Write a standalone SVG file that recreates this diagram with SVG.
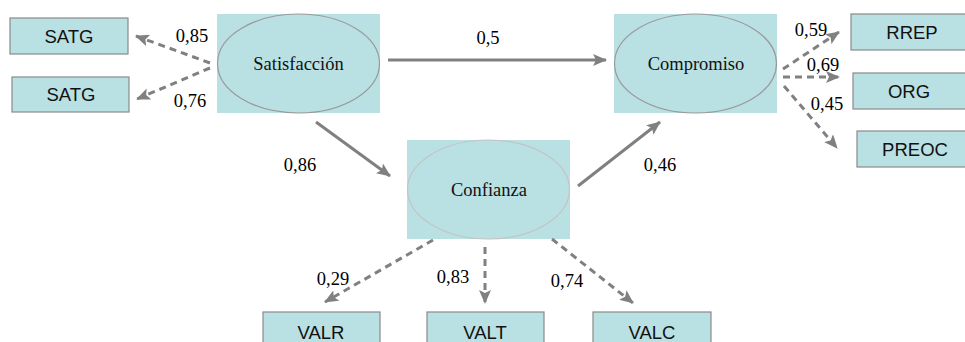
<svg xmlns="http://www.w3.org/2000/svg" width="965" height="342" viewBox="0 0 965 342">
  <defs>
    <marker id="head" viewBox="0 0 14 12" refX="13" refY="6" markerWidth="14" markerHeight="12" markerUnits="userSpaceOnUse" orient="auto">
      <path d="M0,0 L14,6 L0,12 L3,6 Z" fill="#808080"/>
    </marker>
  </defs>
  <style>
    .box { fill: #b9e0e3; stroke: #8a8a8a; stroke-width: 1.2; }
    .pad { fill: #b9e0e3; }
    .lat { fill: #b9e0e3; stroke: #9a9a9a; stroke-width: 1.2; }
    .obs { font-family: "Liberation Sans", Arial, sans-serif; font-size: 18.5px; fill: #111; text-anchor: middle; }
    .nm { font-family: "Liberation Serif", "Times New Roman", serif; font-size: 18.5px; fill: #111; text-anchor: middle; }
    .lbl { font-family: "Liberation Serif", "Times New Roman", serif; font-size: 18.5px; fill: #000; text-anchor: middle; }
    .path { stroke: #808080; stroke-width: 3; fill: none; marker-end: url(#head); }
    .dash { stroke: #808080; stroke-width: 3; fill: none; stroke-dasharray: 7 5; marker-end: url(#head); }
  </style>

  <!-- latent constructs -->
  <g id="satisfaccion">
    <rect class="pad" x="217" y="14" width="163" height="99"/>
    <ellipse class="lat" cx="298.5" cy="63.5" rx="81" ry="49.5"/>
    <text class="nm" x="298.5" y="70">Satisfacción</text>
  </g>
  <g id="compromiso">
    <rect class="pad" x="614" y="14" width="163" height="99"/>
    <ellipse class="lat" cx="695.5" cy="63.5" rx="81" ry="49.5"/>
    <text class="nm" x="696" y="70">Compromiso</text>
  </g>
  <g id="confianza">
    <rect class="pad" x="407" y="140" width="163" height="99"/>
    <ellipse class="lat" cx="488.5" cy="189.5" rx="81" ry="49.5" style="stroke:#c4c4c4"/>
    <text class="nm" x="489" y="196">Confianza</text>
  </g>

  <!-- observed indicators -->
  <g id="satg1">
    <rect class="box" x="10" y="18" width="118" height="36"/>
    <text class="obs" x="69" y="43">SATG</text>
  </g>
  <g id="satg2">
    <rect class="box" x="12" y="77" width="117" height="35"/>
    <text class="obs" x="71" y="101">SATG</text>
  </g>
  <g id="rrep">
    <rect class="box" x="851" y="14" width="120" height="36"/>
    <text class="obs" x="912" y="39">RREP</text>
  </g>
  <g id="org">
    <rect class="box" x="853" y="73" width="118" height="36"/>
    <text class="obs" x="909" y="98">ORG</text>
  </g>
  <g id="preoc">
    <rect class="box" x="857" y="131" width="114" height="36"/>
    <text class="obs" x="915" y="156">PREOC</text>
  </g>
  <g id="valr">
    <rect class="box" x="263" y="312" width="117" height="40"/>
    <text class="obs" x="321" y="339">VALR</text>
  </g>
  <g id="valt">
    <rect class="box" x="427" y="312" width="117" height="40"/>
    <text class="obs" x="485" y="339">VALT</text>
  </g>
  <g id="valc">
    <rect class="box" x="593" y="312" width="118" height="40"/>
    <text class="obs" x="652" y="339">VALC</text>
  </g>

  <!-- paths and loadings -->
  <g id="connectors">
    <line class="path" x1="388" y1="60" x2="606" y2="60"/>
    <line class="path" x1="316" y1="122" x2="390" y2="176"/>
    <line class="path" x1="578" y1="186" x2="660" y2="122"/>

    <line class="dash" x1="210" y1="63" x2="136" y2="36"/>
    <line class="dash" x1="210" y1="68" x2="137" y2="99"/>

    <line class="dash" x1="783" y1="69" x2="839" y2="32"/>
    <line class="dash" x1="783" y1="77" x2="839" y2="77"/>
    <line class="dash" x1="784" y1="86" x2="837" y2="148"/>

    <line class="dash" x1="433" y1="240" x2="325" y2="302"/>
    <line class="dash" x1="485" y1="247" x2="485" y2="303"/>
    <line class="dash" x1="552" y1="239" x2="633" y2="303"/>
  </g>

  <g id="loadings">
    <text class="lbl" x="488" y="44">0,5</text>
    <text class="lbl" x="300" y="171">0,86</text>
    <text class="lbl" x="660" y="171">0,46</text>
    <text class="lbl" x="192" y="42">0,85</text>
    <text class="lbl" x="190" y="107">0,76</text>
    <text class="lbl" x="811" y="36">0,59</text>
    <text class="lbl" x="823" y="71">0,69</text>
    <text class="lbl" x="827" y="110">0,45</text>
    <text class="lbl" x="333" y="285">0,29</text>
    <text class="lbl" x="453" y="283">0,83</text>
    <text class="lbl" x="567" y="287">0,74</text>
  </g>
</svg>
